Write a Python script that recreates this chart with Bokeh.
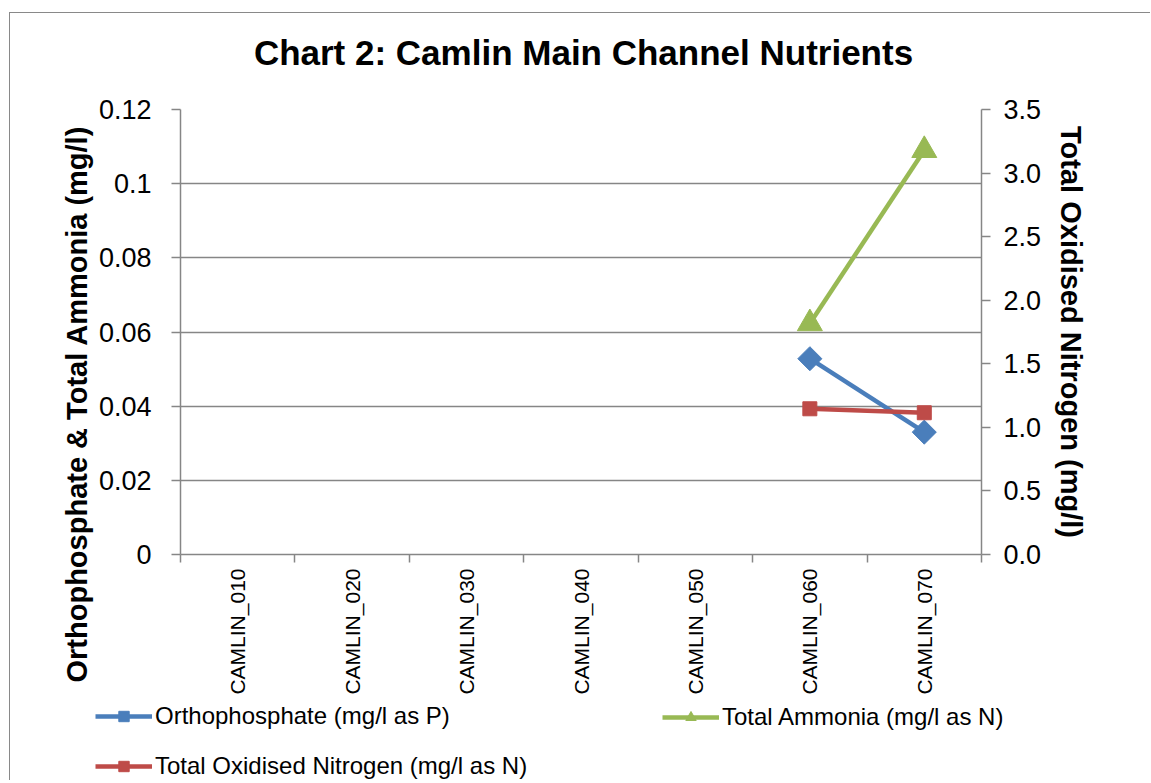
import math
from bokeh.plotting import figure
from bokeh.models import LinearAxis, Range1d, FixedTicker, Legend, LegendItem, Title, Label
from bokeh.embed import file_html
from bokeh.resources import INLINE

nan = float("nan")

categories = ["CAMLIN_010", "CAMLIN_020", "CAMLIN_030", "CAMLIN_040",
              "CAMLIN_050", "CAMLIN_060", "CAMLIN_070"]
orthophosphate = [nan, nan, nan, nan, nan, 0.0528, 0.033]
total_ammonia = [nan, nan, nan, nan, nan, 0.0623, 0.109]
total_oxidised_nitrogen = [nan, nan, nan, nan, nan, 1.146, 1.115]

left_ticks = [0, 0.02, 0.04, 0.06, 0.08, 0.1, 0.12]
left_tick_labels = ["0", "0.02", "0.04", "0.06", "0.08", "0.1", "0.12"]
right_ticks = [0.0, 0.5, 1.0, 1.5, 2.0, 2.5, 3.0, 3.5]
right_tick_labels = ["0.0", "0.5", "1.0", "1.5", "2.0", "2.5", "3.0", "3.5"]

series_names = ["Orthophosphate (mg/l as P)", "Total Ammonia (mg/l as N)",
                "Total Oxidised Nitrogen (mg/l as N)"]
chart_title = "Chart 2: Camlin Main Channel Nutrients"
left_axis_title = "Orthophosphate & Total Ammonia (mg/l)"
right_axis_title = "Total Oxidised Nitrogen (mg/l)"

FONT = "Liberation Sans"
GRID = "#868686"
BORDER = "#898989"
BLUE = "#4A7EBB"
RED = "#BE4B48"
GREEN = "#98B954"
LW = 4.5

W = 1141
TITLE_H = 74
LEG_H = 80


def blank_strip(height):
    f = figure(width=W, height=height, output_backend="svg", toolbar_location=None,
               x_axis_type=None, y_axis_type=None, min_border=0, title_location=None,
               x_range=Range1d(0, W), y_range=Range1d(0, height))
    f.outline_line_color = None
    f.background_fill_color = "white"
    f.border_fill_color = "white"
    return f


# ---- title strip ----
pt = blank_strip(TITLE_H)
pt.styles = {"margin-left": "9px", "margin-top": "12px",
             "border-left": "1px solid " + BORDER, "border-top": "1px solid " + BORDER}
pt.add_layout(Label(x=573, y=35, text=chart_title, text_align="center",
                    text_baseline="alphabetic", text_font=FONT, text_font_size="35px",
                    text_font_style="bold", text_color="black"))

# ---- main chart ----
xpos = [i + 0.5 for i in range(len(categories))]

p = figure(width=W, height=23 + 445 + 146, output_backend="svg", toolbar_location=None,
           title_location=None,
           x_range=Range1d(0, len(categories)), y_range=Range1d(left_ticks[0], left_ticks[-1]),
           min_border_left=170, min_border_right=170, min_border_top=23, min_border_bottom=146)
p.extra_y_ranges = {"ton": Range1d(right_ticks[0], right_ticks[-1])}
p.outline_line_color = None
p.background_fill_color = "white"
p.border_fill_color = "white"
p.styles = {"margin-left": "9px", "border-left": "1px solid " + BORDER}

# x axis
xa = p.xaxis[0]
xa.ticker = FixedTicker(ticks=xpos, minor_ticks=list(range(len(categories) + 1)))
xa.major_label_overrides = {x: c for x, c in zip(xpos, categories)}
xa.major_label_orientation = math.pi / 2
xa.major_tick_out = 0
xa.major_tick_in = 0
xa.minor_tick_out = 8
xa.minor_tick_in = 0
xa.minor_tick_line_color = GRID
xa.axis_line_color = GRID
xa.axis_line_width = 1.5
xa.minor_tick_line_width = 1.5
xa.major_label_text_font = FONT
xa.major_label_text_font_size = "21px"
xa.major_label_text_color = "black"
xa.major_label_standoff = 6
p.xgrid.visible = False

# left y axis
ya = p.yaxis[0]
ya.ticker = FixedTicker(ticks=left_ticks, minor_ticks=[])
ya.major_label_overrides = {t: l for t, l in zip(left_ticks, left_tick_labels)}
ya.major_tick_out = 9
ya.major_tick_in = 0
ya.major_tick_line_color = GRID
ya.major_tick_line_width = 1.5
ya.axis_line_color = GRID
ya.axis_line_width = 1.5
ya.major_label_text_font = FONT
ya.major_label_text_font_size = "27px"
ya.major_label_text_color = "black"
ya.major_label_standoff = 20
p.ygrid.grid_line_color = GRID
p.ygrid.grid_line_width = 1.5

# left axis title: starts below the frame bottom, as in the reference
left_title = Title(text=left_axis_title, align="left", offset=-128, standoff=6,
                   text_font=FONT, text_font_size="29px",
                   text_font_style="bold", text_color="black")
p.add_layout(left_title, "left")

# right y axis
ra = LinearAxis(y_range_name="ton",
                ticker=FixedTicker(ticks=right_ticks, minor_ticks=[]))
ra.major_label_overrides = {t: l for t, l in zip(right_ticks, right_tick_labels)}
ra.major_tick_out = 9
ra.major_tick_in = 0
ra.major_tick_line_color = GRID
ra.major_tick_line_width = 1.5
ra.axis_line_color = GRID
ra.axis_line_width = 1.5
ra.major_label_text_font = FONT
ra.major_label_text_font_size = "27px"
ra.major_label_text_color = "black"
ra.major_label_standoff = 13
ra.axis_label = right_axis_title
ra.axis_label_text_font = FONT
ra.axis_label_text_font_size = "29px"
ra.axis_label_text_font_style = "bold"
ra.axis_label_text_color = "black"
ra.axis_label_standoff = 11
p.add_layout(ra, "right")


def draw_series(fig):
    r = {}
    r["l1"] = fig.line(xpos, orthophosphate, line_color=BLUE, line_width=LW)
    r["s1"] = fig.scatter(xpos, orthophosphate, marker="square", angle=math.pi / 4, size=17,
                          fill_color=BLUE, line_color=BLUE)
    r["l2"] = fig.line(xpos, total_ammonia, line_color=GREEN, line_width=LW)
    r["s2"] = fig.scatter(xpos, total_ammonia, marker="triangle", size=25,
                          fill_color=GREEN, line_color=GREEN)
    kw = {"y_range_name": "ton"} if "ton" in fig.extra_y_ranges else {}
    r["l3"] = fig.line(xpos, total_oxidised_nitrogen, line_color=RED, line_width=LW, **kw)
    r["s3"] = fig.scatter(xpos, total_oxidised_nitrogen, marker="square", size=14,
                          fill_color=RED, line_color=RED, **kw)
    return r


draw_series(p)

# ---- legend strip (series drawn off-view there; only their legend glyphs show) ----
pl = blank_strip(LEG_H)
pl.x_range = Range1d(-2, -1)
pl.y_range = Range1d(-2, -1)
pl.styles = {"margin-left": "9px", "border-left": "1px solid " + BORDER}
rl = draw_series(pl)


def style_legend(lg):
    lg.label_text_font = FONT
    lg.label_text_font_size = "24px"
    lg.label_text_color = "black"
    lg.glyph_width = 57
    lg.glyph_height = 26
    lg.label_height = 26
    lg.label_standoff = 3
    lg.padding = 0
    lg.margin = 0
    lg.border_line_color = None
    lg.background_fill_alpha = 0
    lg.spacing = 22


legA = Legend(items=[LegendItem(label=series_names[0], renderers=[rl["l1"], rl["s1"]]),
                     LegendItem(label=series_names[2], renderers=[rl["l3"], rl["s3"]])],
              location=(85, 0))
legB = Legend(items=[LegendItem(label=series_names[1], renderers=[rl["l2"], rl["s2"]])],
              location=(652, 49))
style_legend(legA)
style_legend(legB)
pl.add_layout(legA, "center")
pl.add_layout(legB, "center")

open("out.html", "w").write(file_html([pt, p, pl], INLINE))
